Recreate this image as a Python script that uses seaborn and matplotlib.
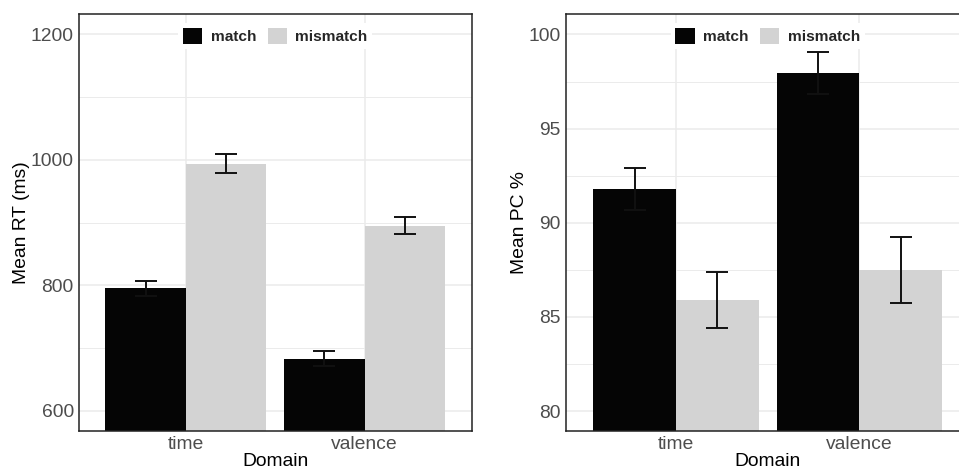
import pandas as pd
import matplotlib
matplotlib.use('Agg')
import matplotlib.pyplot as plt
from matplotlib.patches import Patch
from matplotlib.ticker import MultipleLocator
import seaborn as sns

# Data
domains = ['time', 'valence']
conditions = ['match', 'mismatch']

rt_match = [795, 683]
rt_match_se = [12, 12]
rt_mismatch = [994, 895]
rt_mismatch_se = [15, 14]

pc_match = [91.8, 97.95]
pc_match_se = [1.1, 1.1]
pc_mismatch = [85.9, 87.5]
pc_mismatch_se = [1.5, 1.75]

colors = {'match': '#050505', 'mismatch': '#D3D3D3'}

sns.set_style('white')
plt.rcParams['font.family'] = ['Liberation Sans', 'DejaVu Sans']


def make_df(match, mismatch, match_se, mismatch_se):
    rows = []
    for i, d in enumerate(domains):
        rows.append({'Domain': d, 'Condition': 'match', 'value': match[i], 'se': match_se[i]})
        rows.append({'Domain': d, 'Condition': 'mismatch', 'value': mismatch[i], 'se': mismatch_se[i]})
    return pd.DataFrame(rows)


def draw_panel(ax, df, ylabel, ylim, major, minor):
    sns.barplot(data=df, x='Domain', y='value', hue='Condition', order=domains,
                hue_order=conditions, palette=colors, width=0.9, saturation=1,
                errorbar=None, linewidth=0, ax=ax)

    # error bars on top of each bar
    for cond, container in zip(conditions, ax.containers):
        sub = df[df['Condition'] == cond].set_index('Domain').loc[domains]
        xs = [p.get_x() + p.get_width() / 2 for p in container.patches]
        ax.errorbar(xs, sub['value'], yerr=sub['se'], fmt='none', ecolor='#111111',
                    elinewidth=1.4, capsize=8, capthick=1.4, zorder=5)

    ax.set_xlim(-0.6, 1.6)
    ax.set_ylim(*ylim)
    ax.yaxis.set_major_locator(MultipleLocator(major))
    ax.yaxis.set_minor_locator(MultipleLocator(minor))
    ax.set_axisbelow(True)
    ax.grid(which='major', color='#EBEBEB', linewidth=1.1)
    ax.grid(which='minor', axis='y', color='#EBEBEB', linewidth=0.7)

    ax.tick_params(axis='both', which='major', length=2.5, width=0.8, color='#333333',
                   labelsize=13.9, labelcolor='#4D4D4D', pad=1)
    ax.tick_params(axis='y', which='minor', length=0)
    for s in ax.spines.values():
        s.set_color('#222222')
        s.set_linewidth(1.1)

    ax.set_xlabel('Domain', fontsize=13.9, color='black', labelpad=0)
    ax.set_ylabel(ylabel, fontsize=13.9, color='black', labelpad=0.5)

    handles = [Patch(facecolor=colors[c], edgecolor='none', label=c) for c in conditions]
    ax.legend(handles=handles, loc='center', bbox_to_anchor=(0.5, 0.948), ncol=2,
              frameon=True, facecolor='white', edgecolor='none', framealpha=1,
              fancybox=False, prop={'weight': 'bold', 'size': 11.1},
              handlelength=1.25, handleheight=1.25, handletextpad=0.55,
              columnspacing=0.75, borderpad=0.3)


fig = plt.figure(figsize=(9.59, 4.70), dpi=100)
ax1 = fig.add_axes([0.082, 0.083, 0.410, 0.887])
ax2 = fig.add_axes([0.590, 0.083, 0.421, 0.887])

draw_panel(ax1, make_df(rt_match, rt_mismatch, rt_match_se, rt_mismatch_se),
           'Mean RT (ms)', (568, 1232), 200, 100)
draw_panel(ax2, make_df(pc_match, pc_mismatch, pc_match_se, pc_mismatch_se),
           'Mean PC %', (78.94, 101.08), 5, 2.5)

fig.savefig('out.png', dpi=100)
